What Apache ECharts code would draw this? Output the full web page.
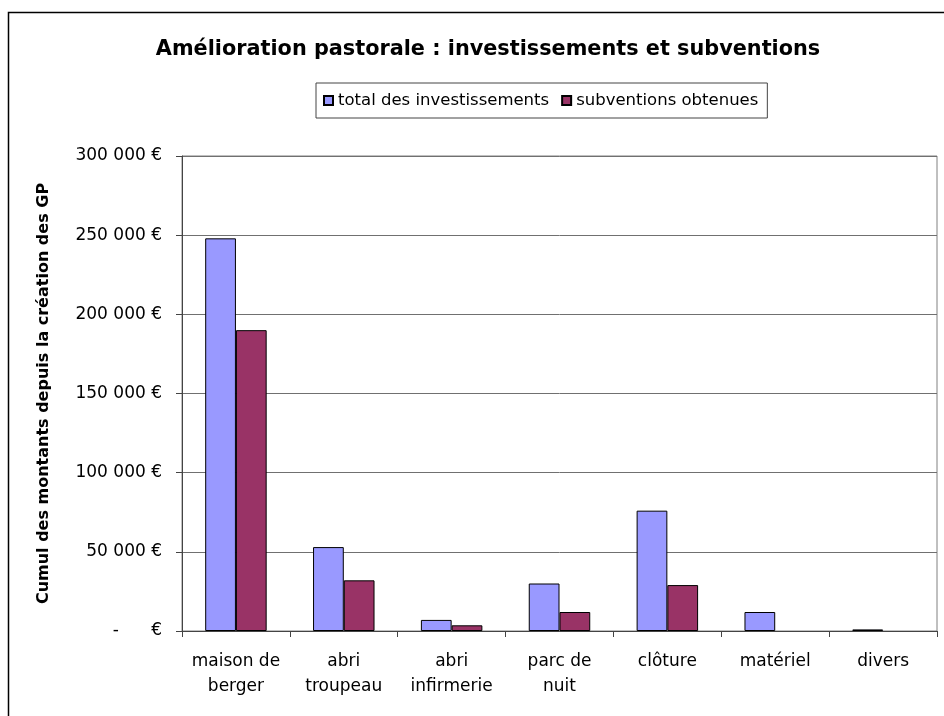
<!DOCTYPE html>
<html>
<head>
<meta charset="utf-8">
<script src="https://cdn.jsdelivr.net/npm/echarts@6/dist/echarts.min.js"></script>
<style>
  html, body { margin: 0; padding: 0; background: #fff; }
  #chart { width: 944px; height: 716px; }
</style>
</head>
<body>
<div id="chart"></div>
<script>
  // données
  const categories = ['maison de\nberger', 'abri\ntroupeau', 'abri\ninfirmerie', 'parc de\nnuit', 'clôture', 'matériel', 'divers'];
  const totalInvest = [248000, 53000, 7000, 30000, 76000, 12000, 1000];
  const subventions = [190000, 32000, 3600, 12000, 29000, 0, 0];
  const seriesNames = ['total des investissements', 'subventions obtenues'];

  const font = 'DejaVu Sans, Verdana, sans-serif';

  // format "250 000 €", zéro affiché "-  €"
  function euro(v) {
    if (v === 0) return '-      €';
    return String(v).replace(/\B(?=(\d{3})+(?!\d))/g, ' ') + ' €';
  }

  // pas de trait pour les barres à zéro
  function noZeroBorder(arr) {
    return arr.map(function (v) {
      return v === 0 ? { value: 0, itemStyle: { borderWidth: 0 } } : v;
    });
  }

  const option = {
    animation: false,
    backgroundColor: '#fff',
    textStyle: { fontFamily: font },
    title: {
      text: 'Amélioration pastorale : investissements et subventions',
      left: 483,
      top: 34,
      textAlign: 'center',
      textStyle: { fontFamily: font, fontSize: 20.8, fontWeight: 'bold', color: '#000' }
    },
    legend: {
      data: seriesNames,
      left: 316,
      top: 83,
      padding: [9, 9, 9, 7],
      itemWidth: 9,
      itemHeight: 9,
      itemGap: 12,
      borderColor: '#444',
      borderWidth: 1,
      icon: 'rect',
      textStyle: { fontFamily: font, fontSize: 16.5, color: '#000' }
    },
    grid: {
      left: 182,
      right: 7,
      top: 156,
      bottom: 85,
      show: true,
      borderColor: '#808080',
      borderWidth: 1
    },
    xAxis: {
      type: 'category',
      data: categories,
      axisLine: { lineStyle: { color: '#444', width: 1 } },
      axisTick: { show: true, length: 6, lineStyle: { color: '#444' } },
      axisLabel: { color: '#000', fontSize: 17, lineHeight: 25, margin: 18, interval: 0, fontFamily: font }
    },
    yAxis: {
      type: 'value',
      min: 0,
      max: 300000,
      interval: 50000,
      name: 'Cumul des montants depuis la création des GP',
      nameLocation: 'middle',
      nameGap: 130,
      nameTextStyle: { fontFamily: font, fontSize: 16, fontWeight: 'bold', color: '#000' },
      axisLine: { show: true, lineStyle: { color: '#444', width: 1 } },
      axisTick: { show: true, length: 6, lineStyle: { color: '#444' } },
      axisLabel: { color: '#000', fontSize: 17, margin: 20, formatter: euro, fontFamily: font },
      splitLine: { lineStyle: { color: '#707070', width: 1 } }
    },
    series: [
      {
        name: seriesNames[0],
        type: 'bar',
        data: noZeroBorder(totalInvest),
        barGap: 0,
        barCategoryGap: '43%',
        itemStyle: { color: '#9999FF', borderColor: '#000', borderWidth: 1 }
      },
      {
        name: seriesNames[1],
        type: 'bar',
        data: noZeroBorder(subventions),
        itemStyle: { color: '#993366', borderColor: '#000', borderWidth: 1 }
      }
    ],
    graphic: [
      {
        type: 'rect',
        shape: { x: 8.5, y: 12.5, width: 1000, height: 1000 },
        style: { fill: null, stroke: '#000', lineWidth: 1.5 },
        silent: true
      }
    ]
  };

  const myChart = echarts.init(document.getElementById('chart'));
  myChart.setOption(option);
</script>
</body>
</html>
